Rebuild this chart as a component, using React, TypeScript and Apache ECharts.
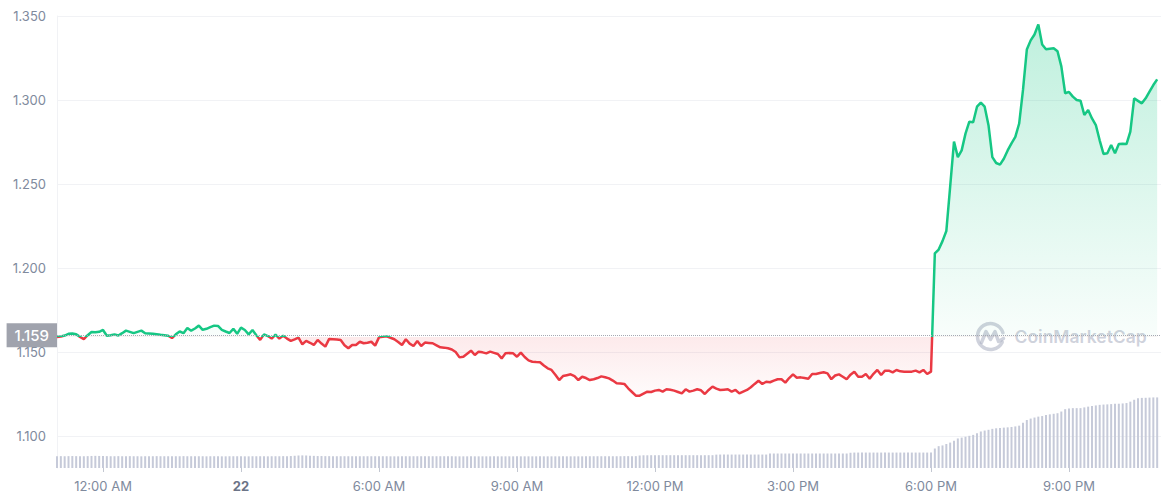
import React, { useEffect, useRef } from 'react';
import * as echarts from 'echarts';

// Price every 5 minutes, starting 23:00 (day 21) — one row per hour
const price: number[] = [
  1.1590, 1.1592, 1.1598, 1.1608, 1.1610, 1.1606, 1.1590, 1.1577, 1.1600, 1.1619, 1.1617, 1.1620,
  1.1631, 1.1597, 1.1600, 1.1605, 1.1598, 1.1612, 1.1627, 1.1620, 1.1612, 1.1620, 1.1627, 1.1612,
  1.1610, 1.1608, 1.1605, 1.1602, 1.1600, 1.1597, 1.1583, 1.1605, 1.1622, 1.1612, 1.1643, 1.1627,
  1.1640, 1.1657, 1.1632, 1.1638, 1.1648, 1.1657, 1.1655, 1.1632, 1.1622, 1.1613, 1.1638, 1.1608,
  1.1645, 1.1631, 1.1605, 1.1631, 1.1600, 1.1572, 1.1605, 1.1595, 1.1580, 1.1603, 1.1580, 1.1597,
  1.1580, 1.1566, 1.1575, 1.1585, 1.1546, 1.1566, 1.1555, 1.1542, 1.1572, 1.1550, 1.1532, 1.1578,
  1.1576, 1.1574, 1.1571, 1.1540, 1.1522, 1.1542, 1.1542, 1.1561, 1.1552, 1.1555, 1.1561, 1.1538,
  1.1587, 1.1590, 1.1593, 1.1585, 1.1576, 1.1560, 1.1542, 1.1576, 1.1550, 1.1536, 1.1565, 1.1536,
  1.1556, 1.1554, 1.1552, 1.1540, 1.1528, 1.1526, 1.1522, 1.1515, 1.1500, 1.1468, 1.1472, 1.1490,
  1.1508, 1.1482, 1.1502, 1.1498, 1.1492, 1.1502, 1.1495, 1.1488, 1.1462, 1.1492, 1.1494, 1.1492,
  1.1472, 1.1496, 1.1470, 1.1450, 1.1442, 1.1440, 1.1439, 1.1420, 1.1403, 1.1393, 1.1365, 1.1333,
  1.1357, 1.1362, 1.1367, 1.1357, 1.1333, 1.1353, 1.1345, 1.1333, 1.1338, 1.1345, 1.1355, 1.1350,
  1.1343, 1.1330, 1.1314, 1.1312, 1.1310, 1.1284, 1.1262, 1.1240, 1.1240, 1.1252, 1.1264, 1.1262,
  1.1270, 1.1274, 1.1264, 1.1278, 1.1275, 1.1270, 1.1262, 1.1254, 1.1278, 1.1264, 1.1270, 1.1278,
  1.1272, 1.1250, 1.1274, 1.1294, 1.1282, 1.1274, 1.1276, 1.1278, 1.1264, 1.1274, 1.1254, 1.1264,
  1.1274, 1.1290, 1.1310, 1.1329, 1.1310, 1.1323, 1.1320, 1.1330, 1.1338, 1.1338, 1.1318, 1.1345,
  1.1367, 1.1347, 1.1349, 1.1345, 1.1341, 1.1369, 1.1369, 1.1375, 1.1379, 1.1373, 1.1338, 1.1360,
  1.1367, 1.1353, 1.1338, 1.1365, 1.1383, 1.1353, 1.1353, 1.1369, 1.1341, 1.1370, 1.1393, 1.1363,
  1.1389, 1.1389, 1.1379, 1.1393, 1.1385, 1.1383, 1.1382, 1.1383, 1.1389, 1.1379, 1.1393, 1.1369,
  1.1383, 1.2087, 1.2110, 1.2160, 1.2220, 1.2484, 1.2752, 1.2660, 1.2700, 1.2800, 1.2871, 1.2868,
  1.2960, 1.2984, 1.2960, 1.2850, 1.2660, 1.2625, 1.2615, 1.2650, 1.2700, 1.2742, 1.2780, 1.2860,
  1.3060, 1.3300, 1.3355, 1.3390, 1.3450, 1.3330, 1.3302, 1.3305, 1.3308, 1.3290, 1.3200, 1.3040,
  1.3048, 1.3020, 1.3000, 1.2996, 1.2911, 1.2940, 1.2890, 1.2851, 1.2760, 1.2679, 1.2683, 1.2732,
  1.2683, 1.2738, 1.2740, 1.2738, 1.2812, 1.3010, 1.2995, 1.2980, 1.3010, 1.3050, 1.3089, 1.3123,
];

// Volume bars (relative height), same 5-minute slots
const volume: number[] = [
  12.6, 12.6, 12.5, 12.6, 12.7, 12.6, 12.6, 12.5, 12.6, 12.8, 12.9, 12.8,
  12.7, 12.6, 12.5, 12.5, 12.6, 12.5, 12.5, 12.6, 12.5, 12.5, 12.4, 12.5,
  12.5, 12.5, 12.6, 12.5, 12.5, 12.5, 12.4, 12.5, 12.5, 12.6, 12.5, 12.5,
  12.5, 12.5, 12.5, 12.4, 12.5, 12.5, 12.5, 12.4, 12.4, 12.5, 12.5, 12.5,
  12.5, 12.4, 12.4, 12.5, 12.5, 12.5, 12.5, 12.4, 12.5, 12.5, 12.5, 12.6,
  12.6, 12.7, 13.0, 13.3, 13.4, 13.3, 13.1, 12.9, 12.7, 12.7, 12.6, 12.6,
  12.6, 12.5, 12.5, 12.5, 12.5, 12.5, 12.5, 12.5, 12.5, 12.5, 12.5, 12.5,
  12.5, 12.5, 12.5, 12.4, 12.4, 12.4, 12.4, 12.5, 12.5, 12.5, 12.5, 12.5,
  12.5, 12.5, 12.5, 12.5, 12.5, 12.5, 12.5, 12.5, 12.4, 12.4, 12.4, 12.4,
  12.4, 12.4, 12.4, 12.4, 12.4, 12.4, 12.4, 12.4, 12.4, 12.4, 12.4, 12.4,
  12.4, 12.4, 12.4, 12.4, 12.4, 12.4, 12.4, 12.4, 12.4, 12.4, 12.4, 12.4,
  12.4, 12.4, 12.4, 12.4, 12.4, 12.4, 12.5, 12.5, 12.5, 12.5, 12.5, 12.5,
  12.5, 12.5, 12.5, 12.5, 12.6, 12.6, 12.6, 12.6, 13.3, 13.5, 13.5, 13.6,
  13.6, 13.6, 13.6, 13.6, 13.6, 13.6, 13.6, 13.6, 13.6, 13.6, 13.6, 13.6,
  13.6, 13.6, 13.6, 13.6, 14.2, 14.3, 14.3, 14.3, 14.3, 14.3, 14.3, 14.3,
  14.3, 14.3, 14.3, 14.3, 14.3, 14.3, 15.3, 15.4, 15.4, 15.4, 15.4, 15.4,
  15.4, 15.4, 15.4, 15.4, 15.4, 15.4, 15.4, 15.4, 15.4, 15.4, 15.4, 15.4,
  15.4, 15.4, 15.4, 16.2, 16.4, 16.4, 16.4, 16.4, 16.4, 16.4, 16.4, 16.4,
  16.4, 16.4, 16.4, 16.4, 16.4, 16.4, 16.4, 16.4, 16.4, 16.4, 16.4, 16.4,
  16.4, 20.7, 23.2, 24.0, 25.5, 27.0, 29.0, 31.4, 32.3, 33.2, 34.2, 35.2,
  37.0, 38.8, 39.8, 40.6, 41.6, 42.2, 42.5, 42.9, 43.2, 43.6, 44.2, 45.0,
  48.0, 51.0, 52.5, 53.6, 54.6, 55.2, 56.4, 57.0, 57.6, 58.2, 60.0, 62.5,
  63.2, 63.6, 63.6, 63.6, 64.4, 65.2, 65.8, 66.5, 67.1, 67.4, 67.6, 67.9,
  68.2, 68.3, 68.6, 69.0, 70.5, 72.5, 74.0, 74.5, 74.6, 74.8, 75.0, 75.0,
];

const openPrice = 1.159;
const yMin = 1.1;
const yMax = 1.35;
const yStep = 0.05;

// x-axis tick labels keyed by time of day
const tickTimes = ['00:00', '03:00', '06:00', '09:00', '12:00', '15:00', '18:00', '21:00'];
const tickLabels = ['12:00 AM', '22', '6:00 AM', '9:00 AM', '12:00 PM', '3:00 PM', '6:00 PM', '9:00 PM'];
const dateLabel = '22';

// 5-minute slots from 23:00 to 23:00 next day
const categories: string[] = [];
for (let i = 0; i <= 288; i++) {
  const m = (23 * 60 + i * 5) % 1440;
  const hh = String(Math.floor(m / 60)).padStart(2, '0');
  const mm = String(m % 60).padStart(2, '0');
  categories.push(`${hh}:${mm}`);
}

const GREEN = '#16c784';
const RED = '#ea3943';
const FONT = 'Inter, "Noto Sans", sans-serif';

// layout of the price grid (pixels)
const CHART_H = 500;
const PRICE_TOP = 16;
const PRICE_H = 420;

export default function App() {
  const ref = useRef<HTMLDivElement>(null);

  useEffect(() => {
    if (!ref.current) return;
    const chart = echarts.init(ref.current, undefined, { renderer: 'svg' });
    const isTick = (_i: number, v: string) => tickTimes.indexOf(v) >= 0;
    const wm = 'rgba(160,166,185,0.5)';
    // pixel row of the opening price, derived from the axis scale
    const baseY = PRICE_TOP + ((yMax - openPrice) / (yMax - yMin)) * PRICE_H;
    const b = baseY / CHART_H;

    chart.setOption({
      animation: false,
      grid: [
        { left: 57, right: 0, top: PRICE_TOP, height: PRICE_H },
        { left: 57, right: 0, top: 388, height: 80 },
      ],
      xAxis: [
        {
          type: 'category', gridIndex: 0, data: categories, boundaryGap: false,
          axisLine: { show: false }, axisTick: { show: false }, axisLabel: { show: false }, splitLine: { show: false },
        },
        {
          type: 'category', gridIndex: 1, data: categories, boundaryGap: false,
          axisLine: { show: false },
          axisTick: { show: true, interval: isTick, length: 4, lineStyle: { color: '#c3c7d1' } },
          axisLabel: {
            interval: isTick,
            margin: 11,
            fontSize: 13,
            fontFamily: FONT,
            color: '#808a9d',
            formatter: (v: string) => {
              const k = tickTimes.indexOf(v);
              if (k < 0) return '';
              const t = tickLabels[k];
              return t === dateLabel ? `{d|${t}}` : t;
            },
            rich: { d: { fontWeight: 'bold', color: '#6c7487', fontSize: 13, fontFamily: FONT } },
          },
          splitLine: { show: false },
        },
      ],
      yAxis: [
        {
          type: 'value', gridIndex: 0, min: yMin, max: yMax, interval: yStep,
          axisLine: { show: true, lineStyle: { color: '#f1f2f5' } },
          axisTick: { show: false },
          axisLabel: { margin: 11, fontSize: 13, fontFamily: FONT, color: '#808a9d', formatter: (v: number) => v.toFixed(3) },
          splitLine: { show: true, lineStyle: { color: '#f1f2f5', width: 1 } },
        },
        {
          type: 'value', gridIndex: 1, min: 0, max: 85,
          axisLine: { show: true, lineStyle: { color: '#f1f2f5' } },
          axisTick: { show: false }, axisLabel: { show: false }, splitLine: { show: false },
        },
      ],
      graphic: [
        {
          type: 'group', left: 975, top: 321, z: 1, silent: true,
          children: [
            { type: 'arc', shape: { cx: 15, cy: 15, r: 13, startAngle: 0.45, endAngle: Math.PI * 2 - 0.3 }, style: { stroke: wm, lineWidth: 3.5, fill: 'none', lineCap: 'round' } },
            { type: 'polyline', shape: { points: [[6, 21], [10.5, 10], [15, 18], [19.5, 10], [23, 20], [28, 17]] }, style: { stroke: wm, lineWidth: 3.5, fill: 'none', lineJoin: 'round', lineCap: 'round' } },
            { type: 'text', x: 39, y: 15, style: { text: 'CoinMarketCap', fontSize: 17.5, fontWeight: 600, fontFamily: FONT, fill: wm, verticalAlign: 'middle' } },
          ],
        },
      ],
      series: [
        {
          type: 'line',
          xAxisIndex: 0, yAxisIndex: 0,
          data: price,
          showSymbol: false,
          symbol: 'none',
          lineStyle: {
            width: 2.5,
            color: new echarts.graphic.LinearGradient(0, 0, 0, CHART_H, [
              { offset: 0, color: GREEN },
              { offset: b, color: GREEN },
              { offset: b, color: RED },
              { offset: 1, color: RED },
            ], true),
          },
          areaStyle: {
            origin: openPrice,
            color: new echarts.graphic.LinearGradient(0, 0, 0, CHART_H, [
              { offset: 0.03, color: 'rgba(22,199,132,0.4)' },
              { offset: b - 0.002, color: 'rgba(22,199,132,0.04)' },
              { offset: b, color: 'rgba(234,57,67,0.15)' },
              { offset: 0.8, color: 'rgba(234,57,67,0.02)' },
            ], true),
          },
          markLine: {
            silent: true,
            symbol: ['none', 'none'],
            lineStyle: { type: 'dotted', color: '#a6a9b3', width: 1 },
            label: {
              show: true,
              position: 'start',
              distance: 0,
              formatter: () => openPrice.toFixed(3),
              backgroundColor: '#a0a3ad',
              color: '#ffffff',
              fontSize: 15,
              fontWeight: 500,
              fontFamily: FONT,
              lineHeight: 15,
              padding: [5, 8, 4, 8],
            },
            data: [{ yAxis: openPrice }],
          },
          z: 3,
        },
        {
          type: 'bar',
          xAxisIndex: 1, yAxisIndex: 1,
          data: volume,
          barWidth: 2,
          itemStyle: { color: '#c6cad9' },
          silent: true,
        },
      ],
    });
    return () => chart.dispose();
  }, []);

  return <div ref={ref} style={{ position: 'absolute', left: 0, top: 0, width: 1161, height: 500 }} />;
}
